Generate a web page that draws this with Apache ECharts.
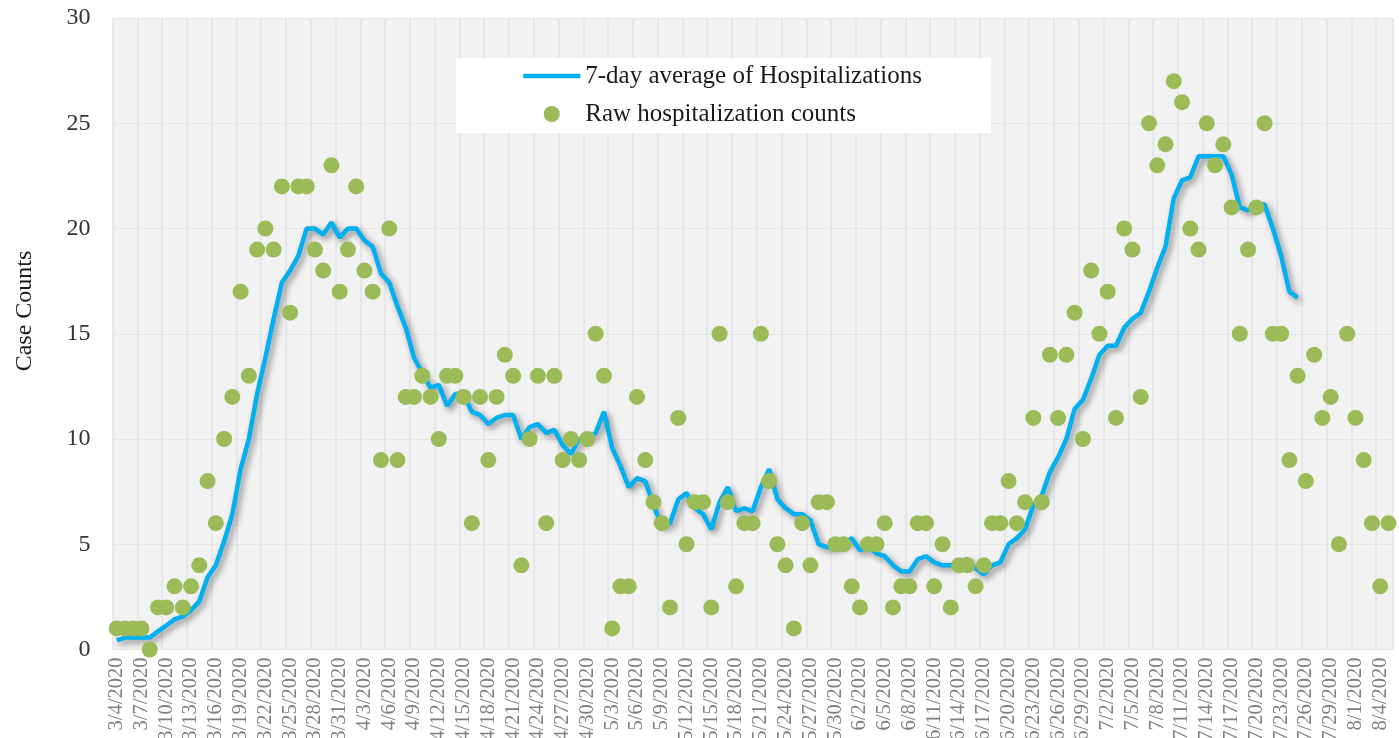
<!DOCTYPE html>
<html lang="en">
<head>
  <meta charset="utf-8">
  <title>Hospitalizations</title>
  <script src="https://cdn.jsdelivr.net/npm/echarts@6/dist/echarts.min.js"></script>
  <style>
    html, body { margin: 0; padding: 0; background: #fff; }
    #main { width: 1399px; height: 738px; }
  </style>
</head>
<body>
<div id="main"></div>
<script type="text/javascript">
// daily categories 3/4/2020 .. 8/5/2020 (labels shown every 3rd day)
var startDay = Date.UTC(2020, 2, 4);
var dayCount = 155;
var dates = [];
for (var i = 0; i < dayCount; i++) {
  var d = new Date(startDay + i * 86400000);
  dates.push((d.getUTCMonth() + 1) + '/' + d.getUTCDate() + '/' + d.getUTCFullYear());
}

// raw daily hospitalization counts
var rawCounts = [
  1, 1, 1, 1, 0, 2, 2, 3, 2, 3, 4, 8, 6, 10, 12, 17, 13, 19, 20, 19,
  22, 16, 22, 22, 19, 18, 23, 17, 19, 22, 18, 17, 9, 20, 9, 12, 12, 13, 12, 10,
  13, 13, 12, 6, 12, 9, 12, 14, 13, 4, 10, 13, 6, 13, 9, 10, 9, 10, 15, 13,
  1, 3, 3, 12, 9, 7, 6, 2, 11, 5, 7, 7, 2, 15, 7, 3, 6, 6, 15, 8,
  5, 4, 1, 6, 4, 7, 7, 5, 5, 3, 2, 5, 5, 6, 2, 3, 3, 6, 6, 3,
  5, 2, 4, 4, 3, 4, 6, 6, 8, 6, 7, 11, 7, 14, 11, 14, 16, 10, 18, 15,
  17, 11, 20, 19, 12, 25, 23, 24, 27, 26, 20, 19, 25, 23, 24, 21, 15, 19, 21, 25,
  15, 15, 9, 13, 8, 14, 11, 12, 5, 15, 11, 9, 6, 3, 6
];

// 7-day average line (ends 7/26)
var avg7 = [
  0.43, 0.57, 0.57, 0.57, 0.57, 0.86, 1.14, 1.43, 1.57, 1.86,
  2.29, 3.43, 4.00, 5.14, 6.43, 8.57, 10.00, 12.14, 13.86, 15.71,
  17.43, 18.00, 18.71, 20.00, 20.00, 19.71, 20.29, 19.57, 20.00, 20.00,
  19.43, 19.14, 17.86, 17.43, 16.29, 15.29, 13.86, 13.14, 12.43, 12.57,
  11.57, 12.14, 12.14, 11.29, 11.14, 10.71, 11.00, 11.14, 11.14, 10.00,
  10.57, 10.71, 10.29, 10.43, 9.71, 9.29, 10.00, 10.00, 10.29, 11.29,
  9.57, 8.71, 7.71, 8.14, 8.00, 6.86, 5.86, 6.00, 7.14, 7.43,
  6.71, 6.43, 5.71, 7.00, 7.71, 6.57, 6.71, 6.57, 7.71, 8.57,
  7.14, 6.71, 6.43, 6.43, 6.14, 5.00, 4.86, 4.86, 5.00, 5.29,
  4.71, 4.86, 4.57, 4.43, 4.00, 3.71, 3.71, 4.29, 4.43, 4.14,
  4.00, 4.00, 4.14, 4.29, 3.86, 3.57, 4.00, 4.14, 5.00, 5.29,
  5.71, 6.86, 7.29, 8.43, 9.14, 10.00, 11.43, 11.86, 12.86, 14.00,
  14.43, 14.43, 15.29, 15.71, 16.00, 17.00, 18.14, 19.14, 21.43, 22.29,
  22.43, 23.43, 23.43, 23.43, 23.43, 22.57, 21.00, 20.86, 21.14, 21.14,
  20.00, 18.71, 17.00, 16.71
];

var yTicks = [0, 5, 10, 15, 20, 25, 30];
var seriesNames = ['7-day average of Hospitalizations', 'Raw hospitalization counts'];

var serif = '"Liberation Serif", "DejaVu Serif", serif';
var myChart = echarts.init(document.getElementById('main'));

var option = {
  animation: false,
  backgroundColor: '#ffffff',
  grid: {
    left: 112.6, right: 6.4, top: 18, bottom: 88.5,
    outerBoundsMode: 'none',   // let the date labels run off the bottom like the original
    show: true, backgroundColor: '#f2f2f2', borderWidth: 0
  },
  legend: {
    // hide the little marker that line series put in the middle of their legend icon
    data: [
      { name: seriesNames[0], itemStyle: { opacity: 0 }, lineStyle: { width: 4.5 } },
      { name: seriesNames[1] }
    ],
    orient: 'vertical',
    left: 456, top: 58,
    align: 'left',
    backgroundColor: '#ffffff',
    padding: [5.5, 69, 6.5, 65],
    itemGap: 13,
    itemWidth: 57, itemHeight: 16,
    textStyle: { fontFamily: serif, fontSize: 25, color: '#1a1a1a' }
  },
  graphic: [{
    type: 'text',
    x: 25, y: 311,
    rotation: Math.PI / 2,
    style: {
      text: 'Case Counts',
      font: '24px ' + serif,
      fill: '#1a1a1a',
      align: 'center',
      verticalAlign: 'middle'
    }
  }],
  xAxis: {
    type: 'category',
    data: dates,
    boundaryGap: true,
    axisLine: { show: false },
    axisTick: { show: false },
    axisLabel: {
      interval: 2, rotate: 90, margin: 8,
      fontFamily: serif, fontSize: 20.5, color: '#808080'
    },
    splitLine: { show: true, interval: 2, lineStyle: { color: '#e3e3e3', width: 1.5 } }
  },
  yAxis: {
    type: 'value',
    min: yTicks[0], max: yTicks[yTicks.length - 1], interval: 5,
    axisLine: { show: false },
    axisTick: { show: false },
    axisLabel: { margin: 22, fontFamily: serif, fontSize: 24, color: '#333333' },
    splitLine: { lineStyle: { color: '#e6e6e6', width: 1 } }
  },
  series: [{
    name: seriesNames[0],
    type: 'line',
    data: avg7,
    symbol: 'none',
    z: 2,
    lineStyle: {
      color: '#00b0f0', width: 4.5,
      shadowColor: 'rgba(0,0,0,0.45)', shadowBlur: 6, shadowOffsetX: 3, shadowOffsetY: 3
    },
    itemStyle: { color: '#00b0f0' }
  }, {
    name: seriesNames[1],
    type: 'scatter',
    data: rawCounts,
    symbol: 'circle',
    symbolSize: 16,
    z: 3,
    itemStyle: { color: '#9bbb59', opacity: 1 }
  }]
};

myChart.setOption(option);
</script>
</body>
</html>
